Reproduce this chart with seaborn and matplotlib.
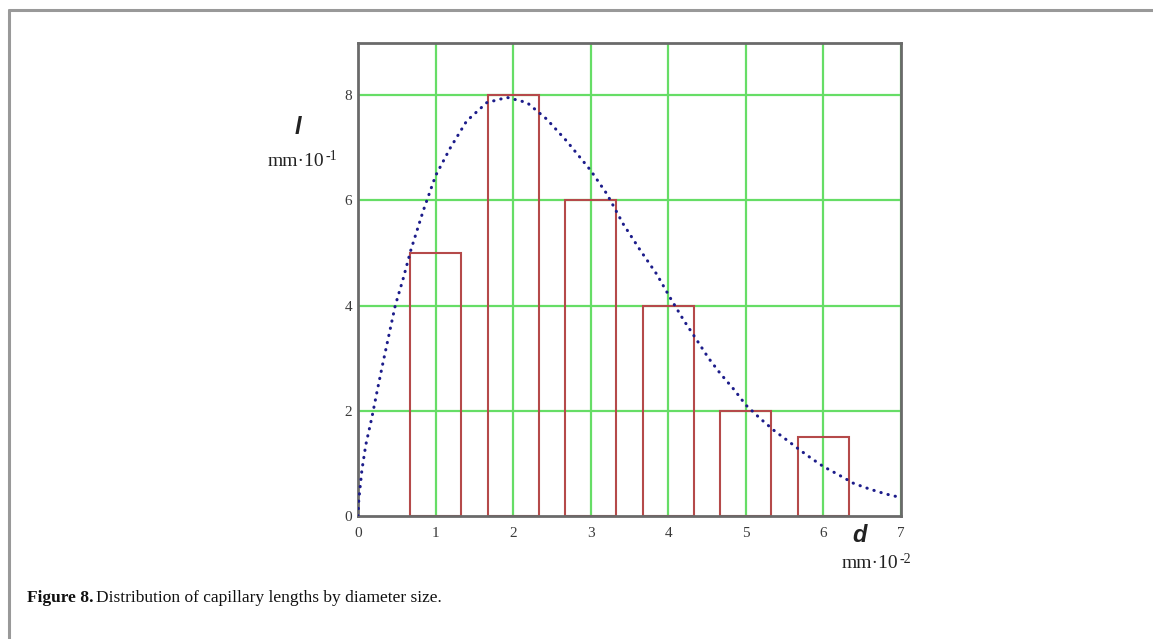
import matplotlib
matplotlib.use("Agg")
import matplotlib.pyplot as plt
import seaborn as sns
import pandas as pd
from matplotlib.lines import Line2D

# ---- data ----
bar_d = [1.0, 2.0, 3.0, 4.0, 5.0, 6.0]
bar_l = [5.0, 8.0, 6.0, 4.0, 2.0, 1.5]

curve_d = [0.0, 0.01, 0.05, 0.10, 0.18, 0.25, 0.32, 0.40, 0.48, 0.58, 0.68, 0.84,
           1.00, 1.19, 1.40, 1.66, 1.92, 2.18, 2.43, 2.69, 3.00, 3.21, 3.42,
           3.64, 3.85, 4.02, 4.20, 4.37, 4.52, 4.67, 4.85, 5.00, 5.18, 5.36,
           5.55, 5.70, 5.85, 6.00, 6.20, 6.39, 6.60, 6.80, 7.00]
curve_l = [0.0, 0.30, 0.87, 1.35, 1.88, 2.40, 2.90, 3.45, 4.00, 4.50, 5.05, 5.80,
           6.47, 7.00, 7.51, 7.86, 7.96, 7.86, 7.55, 7.13, 6.57, 6.12, 5.55,
           5.05, 4.60, 4.16, 3.72, 3.34, 3.00, 2.71, 2.40, 2.11, 1.86, 1.63,
           1.42, 1.25, 1.09, 0.94, 0.78, 0.62, 0.51, 0.42, 0.35]

x_ticks = [0, 1, 2, 3, 4, 5, 6, 7]
y_ticks = [0, 2, 4, 6, 8]

sns.set_theme(style="white")
plt.rcParams["font.family"] = ["Liberation Serif", "DejaVu Serif"]

W, H = 1153, 639
fig = plt.figure(figsize=(W / 100, H / 100), dpi=100)
ax = fig.add_axes([358 / W, 1 - 516 / H, (901 - 358) / W, (516 - 42.7) / H])

green = "#66dd66"
ax.set_xlim(0, 7)
ax.set_ylim(0, 9)
ax.set_xticks(x_ticks)
ax.set_yticks(y_ticks)
for v in x_ticks[1:]:
    ax.axvline(v, color=green, lw=1.6, zorder=0)
for v in y_ticks[1:]:
    ax.axhline(v, color=green, lw=1.6, zorder=0)

bars_df = pd.DataFrame({"d": bar_d, "l": bar_l})
sns.barplot(data=bars_df, x="d", y="l", native_scale=True, width=0.66,
            facecolor="none", edgecolor="#b54a4a", linewidth=1.5, ax=ax, zorder=2)

curve_df = pd.DataFrame({"d": curve_d, "l": curve_l})
sns.lineplot(data=curve_df, x="d", y="l", sort=False, color="#1c1c8a", lw=2.2,
             ax=ax, zorder=3)
ln = ax.lines[-1]
ln.set_linestyle((0, (0.1, 2.3)))
ln.set_dash_capstyle("round")

ax.set_xlim(0, 7)
ax.set_ylim(0, 9)
ax.set_xlabel("")
ax.set_ylabel("")

for s in ax.spines.values():
    s.set_color("#6a6a6a")
    s.set_linewidth(2.0)

ax.tick_params(axis="both", length=0, labelsize=11, labelcolor="#3a3a3a")
ax.tick_params(axis="x", pad=8)
ax.tick_params(axis="y", pad=4)


def unit_label(xc, yc, exp):
    base = fig.text(xc / W, 1 - yc / H, "mm\u00b710", fontsize=14, ha="center",
                    va="center", color="#222222")
    fig.canvas.draw()
    b = base.get_window_extent(renderer=fig.canvas.get_renderer())
    fig.text((b.x1 + 1) / W, (b.y1 - 4) / H, exp, fontsize=10, ha="left",
             va="center", color="#222222")


# axis labels
fig.text(298 / W, 1 - 127 / H, "l", fontsize=17, style="italic", weight="bold",
         family=["Liberation Sans", "DejaVu Sans"], ha="center", va="center", color="#222222")
unit_label(296, 161, "-1")
fig.text(860 / W, 1 - 536 / H, "d", fontsize=17, style="italic", weight="bold",
         family=["Liberation Sans", "DejaVu Sans"], ha="center", va="center", color="#222222")
unit_label(870, 564, "-2")

# page frame
fig.add_artist(Line2D([9 / W, 1.0], [1 - 10 / H, 1 - 10 / H], color="#999999", lw=2.2))
fig.add_artist(Line2D([9 / W, 9 / W], [1 - 10 / H, 0.0], color="#999999", lw=2.2))

# caption
t1 = fig.text(27 / W, 1 - 598 / H, "Figure 8.", fontsize=12.5, weight="bold",
              ha="left", va="center", color="#111111")
fig.canvas.draw()
bb = t1.get_window_extent(renderer=fig.canvas.get_renderer())
fig.text((bb.x1 + 3) / W, 1 - 598 / H, "Distribution of capillary lengths by diameter size.",
         fontsize=12.5, ha="left", va="center", color="#111111")

fig.savefig("out.png", dpi=100)
